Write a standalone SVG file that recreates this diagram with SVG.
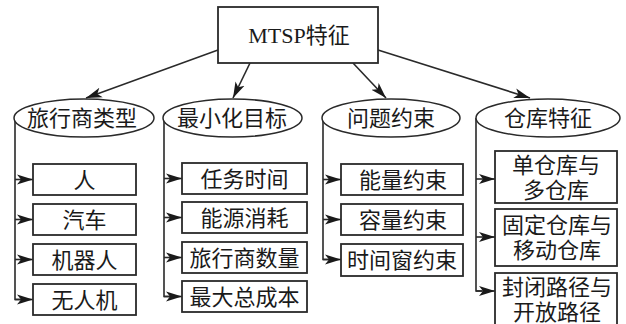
<svg xmlns="http://www.w3.org/2000/svg" width="626" height="324" viewBox="0 0 626 324">
<style>
.box{fill:#fff;stroke:#2a2a2a;stroke-width:1.8}
.ell{fill:#fff;stroke:#2a2a2a;stroke-width:1.5}
.t{font-family:"Liberation Serif","Noto Sans CJK SC",serif;font-size:22px;fill:#1a1a1a;text-anchor:middle}
.c{fill:none;stroke:#2a2a2a;stroke-width:1.6}
.a{fill:none;stroke:#2a2a2a;stroke-width:1.6;marker-end:url(#ah)}
</style>
<defs>
<marker id="ah" markerUnits="userSpaceOnUse" markerWidth="17" markerHeight="12" refX="16" refY="6" orient="auto">
<path d="M0,1 L16,6 L0,11 L4,6 Z" fill="#1a1a1a"/>
</marker>
</defs>
<rect width="626" height="324" fill="#fff"/>
<g id="connectors">
<line class="a" x1="218" y1="50" x2="86" y2="98"/>
<line class="a" x1="250" y1="63" x2="233" y2="98"/>
<line class="a" x1="353" y1="63" x2="386" y2="98"/>
<line class="a" x1="378" y1="50" x2="530" y2="98"/>
<path class="c" d="M15,118 V299.5 H20"/>
<line class="a" x1="15" y1="179.5" x2="33" y2="179.5"/>
<line class="a" x1="15" y1="219.5" x2="33" y2="219.5"/>
<line class="a" x1="15" y1="259.5" x2="33" y2="259.5"/>
<line class="a" x1="15" y1="299.5" x2="33" y2="299.5"/>
<path class="c" d="M164,118 V296.5 H170"/>
<line class="a" x1="164" y1="178.5" x2="182" y2="178.5"/>
<line class="a" x1="164" y1="217.5" x2="182" y2="217.5"/>
<line class="a" x1="164" y1="257.5" x2="182" y2="257.5"/>
<line class="a" x1="164" y1="296.5" x2="182" y2="296.5"/>
<path class="c" d="M323,118 V259.5 H330"/>
<line class="a" x1="323" y1="179.5" x2="341" y2="179.5"/>
<line class="a" x1="323" y1="219.5" x2="341" y2="219.5"/>
<line class="a" x1="323" y1="259.5" x2="341" y2="259.5"/>
<path class="c" d="M476,118 V291 H482"/>
<line class="a" x1="476" y1="179" x2="495" y2="179"/>
<line class="a" x1="476" y1="237" x2="495" y2="237"/>
<line class="a" x1="476" y1="291" x2="495" y2="291"/>
</g>
<g id="root">
<rect class="box" x="218" y="7" width="160" height="56"/>
<text class="t" x="299" y="43">MTSP特征</text>
</g>
<g id="e1"><ellipse class="ell" cx="84" cy="118" rx="70" ry="19"/><text class="t" x="82" y="126">旅行商类型</text></g>
<g id="e2"><ellipse class="ell" cx="232.5" cy="118" rx="69.5" ry="19"/><text class="t" x="232" y="126">最小化目标</text></g>
<g id="e3"><ellipse class="ell" cx="391" cy="118" rx="69" ry="19"/><text class="t" x="391" y="126">问题约束</text></g>
<g id="e4"><ellipse class="ell" cx="548" cy="118" rx="72" ry="19"/><text class="t" x="548" y="126">仓库特征</text></g>
<g id="b11"><rect class="box" x="33" y="164" width="103" height="31"/><text class="t" x="84.5" y="188">人</text></g>
<g id="b12"><rect class="box" x="33" y="204" width="103" height="31"/><text class="t" x="84.5" y="228">汽车</text></g>
<g id="b13"><rect class="box" x="33" y="244" width="103" height="31"/><text class="t" x="84.5" y="268">机器人</text></g>
<g id="b14"><rect class="box" x="33" y="284" width="103" height="31"/><text class="t" x="84.5" y="308">无人机</text></g>
<g id="b21"><rect class="box" x="182" y="163" width="125" height="31"/><text class="t" x="244.5" y="187">任务时间</text></g>
<g id="b22"><rect class="box" x="182" y="202" width="125" height="31"/><text class="t" x="244.5" y="226">能源消耗</text></g>
<g id="b23"><rect class="box" x="182" y="242" width="125" height="31"/><text class="t" x="244.5" y="266">旅行商数量</text></g>
<g id="b24"><rect class="box" x="182" y="281" width="125" height="31"/><text class="t" x="244.5" y="305">最大总成本</text></g>
<g id="b31"><rect class="box" x="341" y="164" width="122" height="31"/><text class="t" x="403" y="188">能量约束</text></g>
<g id="b32"><rect class="box" x="341" y="204" width="122" height="31"/><text class="t" x="403" y="228">容量约束</text></g>
<g id="b33"><rect class="box" x="341" y="244" width="122" height="32"/><text class="t" x="402" y="268">时间窗约束</text></g>
<g id="b41"><rect class="box" x="495" y="151" width="122" height="52"/><text class="t" x="556" y="173">单仓库与</text><text class="t" x="556" y="198">多仓库</text></g>
<g id="b42"><rect class="box" x="495" y="209" width="122" height="57"/><text class="t" x="557" y="233">固定仓库与</text><text class="t" x="557" y="258">移动仓库</text></g>
<g id="b43"><rect class="box" x="495" y="273" width="122" height="60"/><text class="t" x="557" y="295">封闭路径与</text><text class="t" x="557" y="320">开放路径</text></g>
</svg>
